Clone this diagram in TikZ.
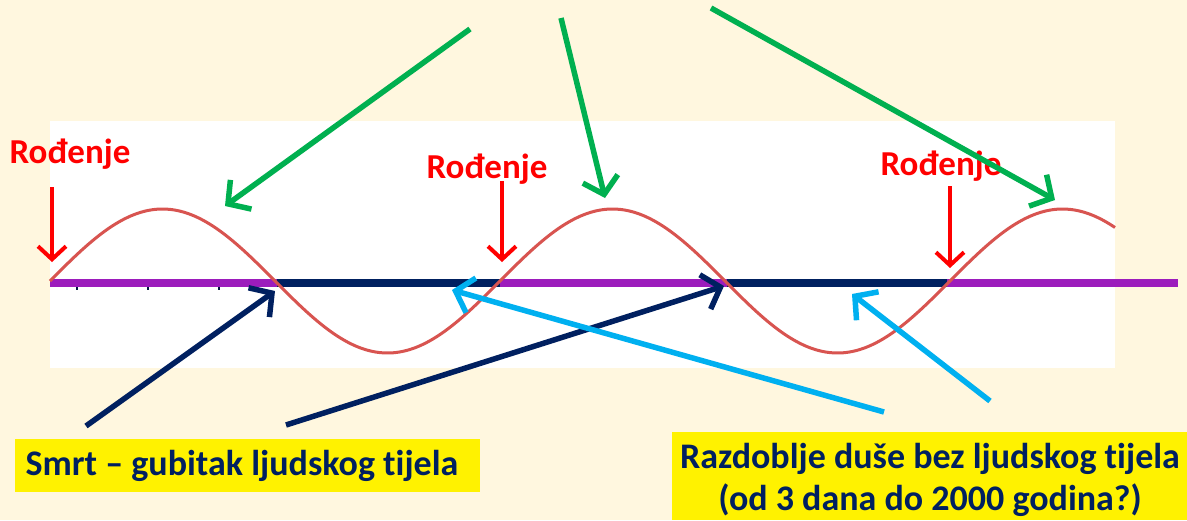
\documentclass[tikz,border=0pt]{standalone}
\usepackage{fontspec}
\setmainfont{Carlito}[Ligatures=NoCommon]
\usetikzlibrary{arrows.meta}
\definecolor{cream}{HTML}{FFF7DF}
\definecolor{wavered}{HTML}{D85450}
\definecolor{lifepurple}{HTML}{9C1CBC}
\definecolor{navy}{HTML}{002060}
\definecolor{skyblue}{HTML}{00B0F0}
\definecolor{leafgreen}{HTML}{00B050}
\definecolor{birthred}{HTML}{FF0000}
\tikzset{
  birthlabel/.style={text=birthred,font=\bfseries\fontsize{35}{38}\selectfont,inner sep=0pt},
  birtharrow/.style={draw=birthred,line width=4pt,-{Straight Barb[length=13pt,width=28pt,line width=4pt]}},
  greenarrow/.style={draw=leafgreen,line width=5.5pt,-{Straight Barb[length=16pt,width=36pt,line width=5.5pt]}},
  navyarrow/.style={draw=navy,line width=5.5pt,-{Straight Barb[length=16pt,width=36pt,line width=5.5pt]}},
  bluearrow/.style={draw=skyblue,line width=5.5pt,-{Straight Barb[length=16pt,width=36pt,line width=5.5pt]}},
  lifeseg/.style={draw=lifepurple,line width=8pt},
  deathseg/.style={draw=navy,line width=8pt},
  boxtext/.style={text=navy,font=\bfseries\fontsize{36}{42}\selectfont,align=center,inner sep=0pt}
}
\begin{document}
\begin{tikzpicture}[x=1pt,y=-1pt]
\useasboundingbox (0,0) rectangle (1187,520);
\fill[cream] (0,0) rectangle (1187,520);
\fill[white] (50,121) rectangle (1115,368);
% axis
\coordinate (b1) at (50,283);
\coordinate (d1) at (277,283);
\coordinate (b2) at (500,283);
\coordinate (d2) at (727,283);
\coordinate (b3) at (947,283);
\coordinate (axend) at (1178,283);
\draw[lifeseg] (b1) -- (d1);
\draw[deathseg] (d1) -- (b2);
\draw[lifeseg] (b2) -- (d2);
\draw[deathseg] (d2) -- (b3);
\draw[lifeseg] (b3) -- (axend);
\foreach \t in {77,148,219} \draw[navy!70!black,line width=1.2pt] (\t,287) -- (\t,290);
% wave
\draw[wavered,line width=3pt,domain=50:1115,samples=240,smooth] plot (\x,{281-72*sin((\x-50)/450*360)});
% birth labels
\node[birthlabel] (r1) at (70,154) {Rođenje};
\node[birthlabel] (r2) at (487,169) {Rođenje};
\node[birthlabel] (r3) at (941,166) {Rođenje};
\coordinate (r1t) at (52,262);
\coordinate (r2t) at (502,262);
\coordinate (r3t) at (950,268);
\draw[birtharrow] (52,187) -- (r1t);
\draw[birtharrow] (502,181) -- (r2t);
\draw[birtharrow] (950,186) -- (r3t);
% green arrows
\coordinate (g1s) at (470,29);
\coordinate (g1t) at (225,206);
\coordinate (g2s) at (561,18);
\coordinate (g2t) at (605,198);
\coordinate (g3s) at (711,8);
\coordinate (g3t) at (1055,200);
\draw[greenarrow] (g1s) -- (g1t);
\draw[greenarrow] (g2s) -- (g2t);
\draw[greenarrow] (g3s) -- (g3t);
% boxes
\fill[yellow] (15,439) rectangle (480,492);
\node[boxtext] (smrt) at (242,466) {Smrt – gubitak ljudskog tijela};
\fill[yellow] (672,432) rectangle (1187,520);
\node[boxtext] (razd) at (930,480) {Razdoblje duše bez ljudskog tijela\\(od 3 dana do 2000 godina?)};
% navy arrows
\coordinate (n1s) at (86,426);
\coordinate (n1t) at (275,291);
\coordinate (n2s) at (286,425);
\coordinate (n2t) at (724,286);
\draw[navyarrow] (n1s) -- (n1t);
\draw[navyarrow] (n2s) -- (n2t);
% blue arrows
\coordinate (c1s) at (884,412);
\coordinate (c1t) at (452,290);
\coordinate (c2s) at (990,401);
\coordinate (c2t) at (852,294);
\draw[bluearrow] (c1s) -- (c1t);
\draw[bluearrow] (c2s) -- (c2t);
\end{tikzpicture}
\end{document}
